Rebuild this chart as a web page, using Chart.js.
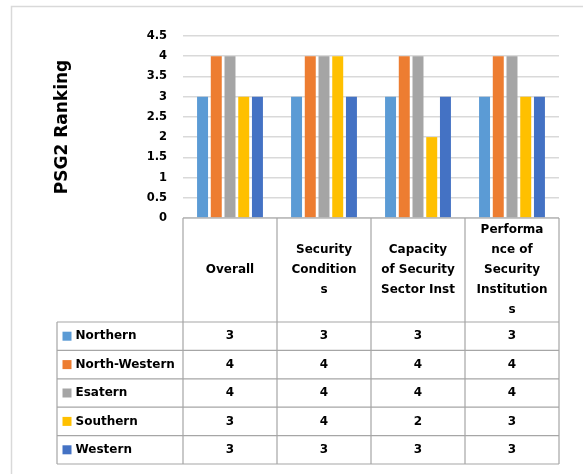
<!DOCTYPE html>
<html>
<head>
<meta charset="utf-8">
<script src="https://cdn.jsdelivr.net/npm/chart.js@4/dist/chart.umd.min.js"></script>
<style>
  html, body { margin: 0; padding: 0; background: #ffffff; }
  #wrap { width: 583px; height: 474px; position: relative; }
</style>
</head>
<body>
<div id="wrap"><canvas id="chart" width="583" height="474"></canvas></div>
<script>
// Column headings, already broken into the lines shown in the table header
const categories = [
  ['Overall'],
  ['Security', 'Condition', 's'],
  ['Capacity', 'of Security', 'Sector Inst'],
  ['Performa', 'nce of', 'Security', 'Institution', 's']
];

const regions = ['Northern', 'North-Western', 'Esatern', 'Southern', 'Western'];

const northern     = [3, 3, 3, 3];
const northWestern = [4, 4, 4, 4];
const esatern      = [4, 4, 4, 4];
const southern     = [3, 4, 2, 3];
const western      = [3, 3, 3, 3];

const yTickLabels = ['0', '0.5', '1', '1.5', '2', '2.5', '3', '3.5', '4', '4.5'];
const yTitle = 'PSG2 Ranking';

const seriesValues = [northern, northWestern, esatern, southern, western];
const seriesColors = ['#5B9BD5', '#ED7D31', '#A5A5A5', '#FFC000', '#4472C4'];

const FONT = '"DejaVu Sans", sans-serif';

// Draws the outer frame and the data table underneath the plot
const dataTablePlugin = {
  id: 'dataTable',
  beforeDraw(chart) {
    const ctx = chart.ctx;
    ctx.save();
    ctx.strokeStyle = '#d9d9d9';
    ctx.lineWidth = 1.5;
    ctx.beginPath();
    ctx.moveTo(11.5, chart.height);
    ctx.lineTo(11.5, 6.5);
    ctx.lineTo(chart.width, 6.5);
    ctx.stroke();
    ctx.restore();
  },
  afterDraw(chart) {
    const ctx = chart.ctx;
    const x = chart.scales.x;
    const area = chart.chartArea;
    const n = categories.length;
    const colW = (area.right - area.left) / n;
    const edges = [];
    for (let i = 0; i <= n; i++) edges.push(area.left + colW * i);

    const headTop = area.bottom;
    const headBottom = 322;
    const rowH = 28.4;
    const legendLeft = 57;
    const rowTops = [];
    for (let r = 0; r <= regions.length; r++) rowTops.push(headBottom + rowH * r);
    const tableBottom = rowTops[rowTops.length - 1];

    ctx.save();
    ctx.strokeStyle = '#a6a6a6';
    ctx.lineWidth = 1.2;
    ctx.beginPath();
    // header top border
    ctx.moveTo(edges[0], headTop); ctx.lineTo(edges[n], headTop);
    // row borders
    rowTops.forEach(y => { ctx.moveTo(legendLeft, y); ctx.lineTo(edges[n], y); });
    // column borders
    edges.forEach(ex => { ctx.moveTo(ex, headTop); ctx.lineTo(ex, tableBottom); });
    ctx.moveTo(legendLeft, headBottom); ctx.lineTo(legendLeft, tableBottom);
    ctx.stroke();

    ctx.fillStyle = '#000000';
    ctx.font = 'bold 12px ' + FONT;
    ctx.textAlign = 'center';
    ctx.textBaseline = 'middle';

    // header labels
    const lineH = 20;
    const headMid = (headTop + headBottom) / 2;
    categories.forEach((lines, i) => {
      const cx = x.getPixelForValue(i);
      const y0 = headMid - (lines.length - 1) * lineH / 2;
      lines.forEach((t, k) => ctx.fillText(t, cx, y0 + k * lineH));
    });

    // legend keys and values
    regions.forEach((name, r) => {
      const cy = (rowTops[r] + rowTops[r + 1]) / 2;
      ctx.fillStyle = seriesColors[r];
      ctx.fillRect(62.5, cy - 4.5, 9, 9);
      ctx.fillStyle = '#000000';
      ctx.textAlign = 'left';
      ctx.fillText(name, 75.5, cy);
      ctx.textAlign = 'center';
      seriesValues[r].forEach((v, i) => {
        ctx.fillText(String(v), x.getPixelForValue(i), cy);
      });
    });
    ctx.restore();
  }
};

new Chart(document.getElementById('chart'), {
  type: 'bar',
  data: {
    labels: categories,
    datasets: regions.map((name, i) => ({
      label: name,
      data: seriesValues[i],
      backgroundColor: seriesColors[i],
      borderWidth: 0,
      categoryPercentage: 0.73,
      barPercentage: 0.8
    }))
  },
  options: {
    responsive: false,
    animation: false,
    devicePixelRatio: 1,
    layout: { padding: { top: 36, right: 24, bottom: 256, left: 0 } },
    plugins: {
      legend: { display: false },
      tooltip: { enabled: false }
    },
    scales: {
      x: { display: false },
      y: {
        min: 0,
        max: 4.5,
        afterFit(scale) { scale.width = 183; },
        ticks: {
          stepSize: 0.5,
          padding: 16,
          color: '#000000',
          font: { family: FONT, size: 11.5, weight: 'bold' },
          callback: (v, i) => yTickLabels[i]
        },
        grid: { color: '#d9d9d9', lineWidth: 1.5, drawTicks: false },
        border: { display: false },
        title: {
          display: true,
          text: yTitle,
          color: '#000000',
          font: { family: FONT, size: 17, weight: 'bold' },
          padding: { top: 52, bottom: 0 }
        }
      }
    }
  },
  plugins: [dataTablePlugin]
});
</script>
</body>
</html>
